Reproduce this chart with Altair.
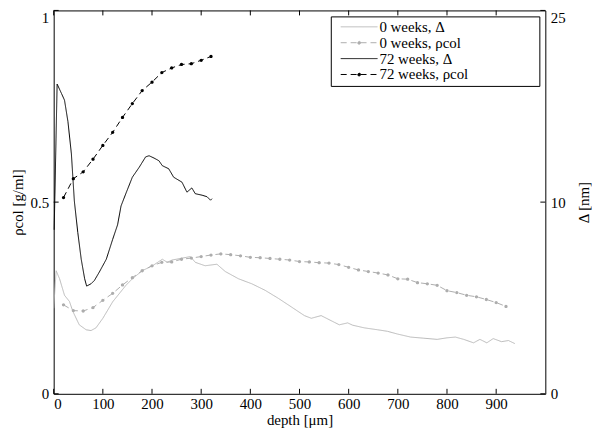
import altair as alt
import pandas as pd

# ---------------- data ----------------
series_names = ["0 weeks, Δ", "0 weeks, ρcol", "72 weeks, Δ", "72 weeks, ρcol"]
series_colors = ["#b8b8b8", "#adadad", "#000000", "#000000"]
series_dash = [[1, 0], [6, 4], [1, 0], [6, 4]]
# legend glyphs: plain line for Δ, line with a dot marker for ρcol
line_glyph = "M-3.7,0H3.7"
dot_glyph = "M-3.7,0H3.7M-0.3,0a0.3,0.3 0 1,0 0.6,0a0.3,0.3 0 1,0 -0.6,0"
series_glyphs = [line_glyph, dot_glyph, line_glyph, dot_glyph]

# 72 weeks, rho_col  (left axis, g/ml)
depth_72_rho = [20, 40, 60, 80, 100, 120, 140, 160, 180, 200, 220, 240, 260, 280, 300, 320]
rho_72 = [0.512, 0.561, 0.579, 0.612, 0.648, 0.682, 0.721, 0.757, 0.791, 0.813,
          0.838, 0.850, 0.859, 0.861, 0.870, 0.880]

# 0 weeks, rho_col  (left axis, g/ml)
depth_0_rho = [20, 40, 60, 80, 100, 120, 140, 160, 180, 200, 220, 240, 260, 280, 300,
               320, 340, 360, 380, 400, 420, 440, 460, 480, 500, 520, 540, 560, 580, 600,
               620, 640, 660, 680, 700, 720, 740, 760, 780, 800, 820, 840, 860, 880, 900, 920]
rho_0 = [0.232, 0.217, 0.216, 0.225, 0.244, 0.262, 0.284, 0.303, 0.321, 0.334,
         0.343, 0.344, 0.351, 0.354, 0.358, 0.362, 0.365, 0.363, 0.360, 0.356,
         0.355, 0.353, 0.351, 0.349, 0.345, 0.344, 0.342, 0.341, 0.337, 0.330,
         0.323, 0.319, 0.315, 0.310, 0.300, 0.299, 0.290, 0.287, 0.283, 0.269,
         0.264, 0.257, 0.253, 0.246, 0.238, 0.228]

# 72 weeks, Delta  (right axis, nm)
depth_72_delta = [1, 7, 16, 22, 29, 36, 42, 49, 56, 63, 67, 76, 83, 93, 107, 120, 130,
                  137, 147, 160, 174, 187, 194, 204, 214, 221, 234, 244, 261, 271, 281,
                  288, 302, 312, 319, 322]
delta_72 = [8.56, 16.16, 15.66, 15.32, 14.20, 12.52, 10.06, 8.42, 7.02, 6.00, 5.62,
            5.74, 5.92, 6.36, 7.02, 8.06, 8.82, 9.80, 10.46, 11.30, 11.82, 12.36,
            12.42, 12.30, 12.16, 11.90, 11.74, 11.30, 11.04, 10.52, 10.74, 10.44,
            10.36, 10.28, 10.10, 10.18]

# 0 weeks, Delta  (right axis, nm)
depth_0_delta = [0, 5, 12, 22, 32, 39, 52, 66, 76, 86, 100, 120, 147, 160, 180, 201,
                 221, 231, 241, 258, 278, 288, 308, 332, 349, 376, 403, 430, 457, 483,
                 497, 510, 524, 544, 564, 581, 598, 608, 632, 659, 679, 699, 726, 753,
                 780, 800, 817, 834, 854, 867, 881, 894, 911, 925, 938]
delta_0 = [4.46, 6.42, 6.00, 5.14, 4.82, 4.30, 3.60, 3.34, 3.30, 3.44, 3.94, 4.80,
           5.66, 6.00, 6.42, 6.68, 7.02, 6.86, 6.98, 7.06, 7.16, 6.86, 6.68, 6.76,
           6.38, 6.00, 5.74, 5.40, 4.98, 4.54, 4.30, 4.08, 3.94, 4.08, 3.82, 3.60,
           3.70, 3.58, 3.44, 3.34, 3.26, 3.12, 2.96, 2.90, 2.84, 2.92, 2.96, 2.84,
           2.66, 2.84, 2.66, 2.88, 2.72, 2.78, 2.62]

x_ticks = [0, 100, 200, 300, 400, 500, 600, 700, 800, 900]
rho_ticks = [0, 0.5, 1]
delta_ticks = [0, 10, 20]
delta_tick_labels = ["0", "10", "25"]

# ---------------- tables ----------------
rho_df = pd.concat([
    pd.DataFrame({"depth": depth_0_rho, "rho": rho_0, "series": series_names[1]}),
    pd.DataFrame({"depth": depth_72_rho, "rho": rho_72, "series": series_names[3]}),
])
delta_df = pd.concat([
    pd.DataFrame({"depth": depth_0_delta, "delta": delta_0, "series": series_names[0]}),
    pd.DataFrame({"depth": depth_72_delta, "delta": delta_72, "series": series_names[2]}),
])
xt_df = pd.DataFrame({"depth": x_ticks})
yt_df = pd.DataFrame({"rho": rho_ticks})

W, H = 495, 386
FONT = "Liberation Serif"
FS = 15

xscale = alt.Scale(domain=[0, 1000], nice=False, zero=False)
rscale = alt.Scale(domain=[0, 1], nice=False)
dscale = alt.Scale(domain=[0, 20], nice=False)

x_axis = alt.Axis(values=x_ticks, title="depth [μm]", ticks=False, domain=False,
                  grid=False, labelPadding=3, titlePadding=1, format="d")
rho_axis = alt.Axis(values=rho_ticks, title="ρcol [g/ml]", ticks=False, domain=False,
                    grid=False, format="~g", labelPadding=5, titlePadding=5,
                    labelBaseline={"condition": {"test": f"datum.value == {rho_ticks[-1]}",
                                                 "value": "top"}, "value": "middle"})

label_map = "{" + ",".join(f"'{v}':'{l}'" for v, l in zip(delta_ticks, delta_tick_labels)) + "}"
delta_axis = alt.Axis(values=delta_ticks, title="Δ [nm]", ticks=False, domain=False,
                      grid=False, orient="right", labelPadding=5, titlePadding=26,
                      titleAngle=270, labelExpr=f"{label_map}[datum.label]",
                      labelBaseline={"condition": {"test": f"datum.value == {delta_ticks[-1]}",
                                                   "value": "top"}, "value": "middle"})

legend = alt.Legend(title=None, orient="top-right", offset=6, symbolType=line_glyph,
                    symbolSize=100, symbolStrokeWidth=1, symbolOffset=18,
                    labelFont=FONT, labelFontSize=FS, labelColor="black", labelLimit=400,
                    strokeColor="black", fillColor="white", padding=3, rowPadding=0,
                    labelOffset=13,
                    labelExpr="datum.label + '\u2003\u2003\u2003\u2003\u2002\u200b'")

color = alt.Color("series:N", scale=alt.Scale(domain=series_names, range=series_colors),
                  legend=legend)
dash = alt.StrokeDash("series:N", scale=alt.Scale(domain=series_names, range=series_dash),
                      legend=legend)
shape = alt.Shape("series:N", scale=alt.Scale(domain=series_names, range=series_glyphs),
                  legend=legend)

X = alt.X("depth:Q", scale=xscale, axis=x_axis)

rho_lines = alt.Chart(rho_df).mark_line(strokeWidth=1).encode(
    x=X, y=alt.Y("rho:Q", scale=rscale, axis=rho_axis), color=color, strokeDash=dash,
    detail="series:N")
# markers: only the dot of the glyph has an area, so only the dot shows on the data
rho_points = alt.Chart(rho_df).mark_point(filled=True, size=120, opacity=1,
                                          strokeWidth=0).encode(
    x=X, y=alt.Y("rho:Q", scale=rscale, axis=rho_axis), color=color, shape=shape)

tick_kw = dict(color="black", strokeWidth=1)
bottom_ticks = alt.Chart(xt_df).mark_rule(**tick_kw).encode(
    x=X, y=alt.value(H), y2=alt.value(H - 5))
top_ticks = alt.Chart(xt_df).mark_rule(**tick_kw).encode(
    x=X, y=alt.value(0), y2=alt.value(5))
left_ticks = alt.Chart(yt_df).mark_rule(**tick_kw).encode(
    y=alt.Y("rho:Q", scale=rscale, axis=rho_axis), x=alt.value(0), x2=alt.value(5))
right_ticks = alt.Chart(yt_df).mark_rule(**tick_kw).encode(
    y=alt.Y("rho:Q", scale=rscale, axis=rho_axis), x=alt.value(W), x2=alt.value(W - 5))

left_layer = alt.layer(rho_lines, rho_points, bottom_ticks, top_ticks, left_ticks, right_ticks)

delta_lines = alt.Chart(delta_df).mark_line(strokeWidth=1).encode(
    x=X, y=alt.Y("delta:Q", scale=dscale, axis=delta_axis), color=color, strokeDash=dash,
    detail="series:N")

chart = alt.layer(delta_lines, left_layer).resolve_scale(y="independent").properties(
    width=W, height=H,
    background="white",
    autosize=alt.AutoSizeParams(type="none"),
    padding={"left": 46, "top": 1, "right": 47, "bottom": 37},
).configure_view(stroke="black", strokeWidth=1).configure_axis(
    labelFont=FONT, labelFontSize=FS, labelColor="black",
    titleFont=FONT, titleFontSize=FS, titleColor="black", titleFontWeight="normal",
)

chart.save("out.html", embed_options={"renderer": "svg", "actions": False})
